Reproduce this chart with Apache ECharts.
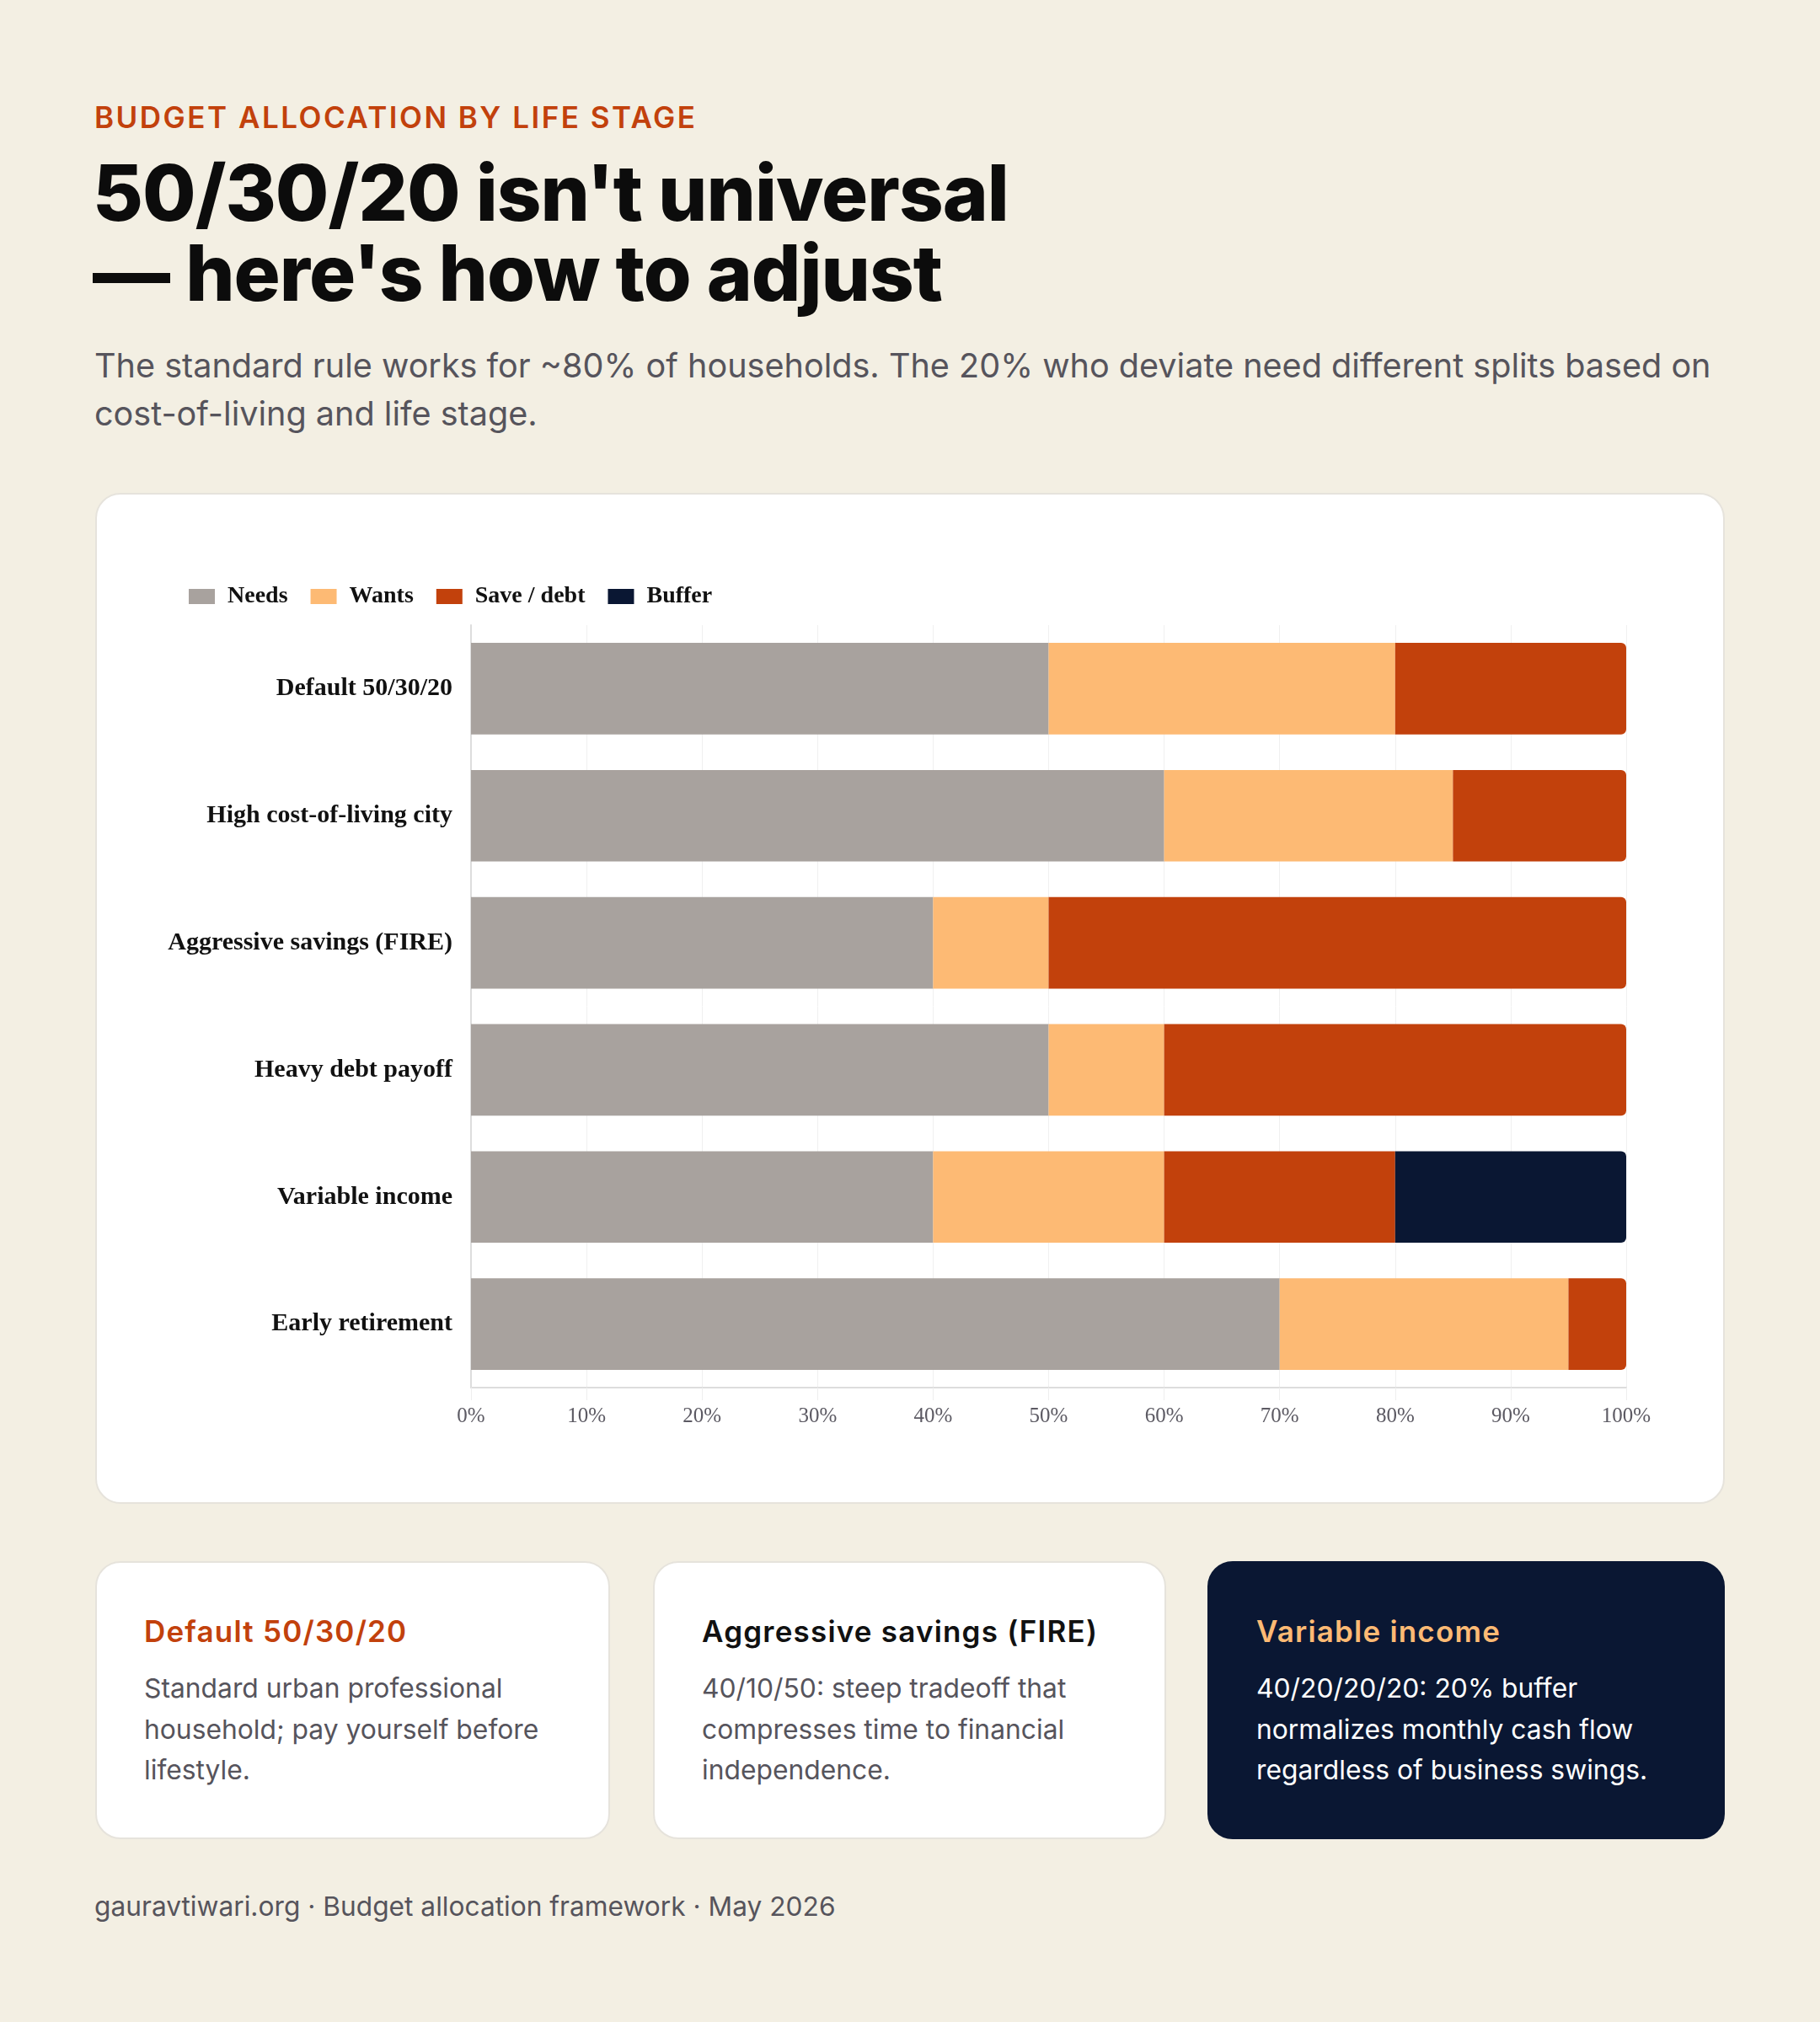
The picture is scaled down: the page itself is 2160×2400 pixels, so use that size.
<!DOCTYPE html>
<html>
<head>
<meta charset="utf-8">
<script src="https://cdn.jsdelivr.net/npm/echarts@6/dist/echarts.min.js"></script>
<style>
  html, body { margin:0; padding:0; }
  body { width:2160px; height:2400px; background:#f3efe3; position:relative; font-family:Inter, "Noto Sans", sans-serif; overflow:hidden; }
  .eyebrow { position:absolute; left:112px; top:118px; font-size:35px; font-weight:600; letter-spacing:2.5px; color:#c2410c; }
  .title { position:absolute; left:110px; top:181px; font-size:92px; font-weight:800; line-height:95px; letter-spacing:-1px; color:#0c0c0c; }
  .sub { position:absolute; left:112px; top:406px; width:1990px; font-size:39.6px; line-height:57px; color:#56545c; }
  .card { position:absolute; background:#fff; border:2px solid #e6e3dc; border-radius:30px; box-sizing:border-box; }
  #chart { position:absolute; left:113px; top:585px; width:1934px; height:1200px; }
  .small { top:1853px; height:330px; padding:56px 56px; }
  .small h3 { margin:0; font-size:35px; font-weight:600; line-height:44px; margin-top:3px; letter-spacing:1.2px; }
  .small p { margin:22px 0 0 0; font-size:31.8px; line-height:48.5px; color:#56545c; }
  .dark { background:#0a1733; border-color:#0a1733; }
  .dark h3 { color:#fdba74; }
  .dark p { color:#ffffff; }
  .footer { position:absolute; left:112px; top:2243px; font-size:31.7px; color:#56545c; }
</style>
</head>
<body>
<div class="eyebrow">BUDGET ALLOCATION BY LIFE STAGE</div>
<div class="title">50/30/20 isn't universal<br>— here's how to adjust</div>
<div class="sub">The standard rule works for ~80% of households. The 20% who deviate need different splits based on cost-of-living and life stage.</div>

<div class="card" style="left:113px; top:585px; width:1934px; height:1200px;"></div>
<div id="chart"></div>

<div class="card small" style="left:113px; width:611px;">
  <h3 style="color:#c2410c;">Default 50/30/20</h3>
  <p>Standard urban professional household; pay yourself before lifestyle.</p>
</div>
<div class="card small" style="left:775px; width:609px;">
  <h3 style="color:#111;">Aggressive savings (FIRE)</h3>
  <p>40/10/50: steep tradeoff that compresses time to financial independence.</p>
</div>
<div class="card small dark" style="left:1433px; width:614px;">
  <h3>Variable income</h3>
  <p>40/20/20/20: 20% buffer normalizes monthly cash flow regardless of business swings.</p>
</div>

<div class="footer">gauravtiwari.org · Budget allocation framework · May 2026</div>

<script>
const categories = ["Default 50/30/20", "High cost-of-living city", "Aggressive savings (FIRE)", "Heavy debt payoff", "Variable income", "Early retirement"];
const seriesNames = ["Needs", "Wants", "Save / debt", "Buffer"];
const needs = [50, 60, 40, 50, 40, 70];
const wants = [30, 25, 10, 10, 20, 25];
const saveDebt = [20, 15, 50, 40, 20, 5];
const buffer = [0, 0, 0, 0, 20, 0];
const colors = ["#a8a29e", "#fdba74", "#c2410c", "#0a1733"];
const xTicks = [0, 10, 20, 30, 40, 50, 60, 70, 80, 90, 100];

const allValues = [needs, wants, saveDebt, buffer];
const lastIdx = categories.map((c, i) => {
  let last = 0;
  allValues.forEach((arr, s) => { if (arr[i] > 0) last = s; });
  return last;
});

const serif = "'Liberation Serif', 'Times New Roman', serif";
const chart = echarts.init(document.getElementById('chart'), null, { renderer: 'canvas' });
chart.setOption({
  animation: false,
  backgroundColor: 'transparent',
  textStyle: { fontFamily: serif },
  legend: {
    left: 106, top: 104,
    itemWidth: 31, itemHeight: 18, itemGap: 27,
    icon: 'rect',
    textStyle: { fontFamily: serif, fontSize: 28, fontWeight: 'bold', color: '#111', padding: [0, 0, 0, 10] },
    data: seriesNames
  },
  grid: { left: 446, right: 117, top: 157, bottom: 138, containLabel: false },
  xAxis: {
    type: 'value', min: 0, max: 100, interval: 10,
    axisLine: { show: true, lineStyle: { color: '#dddddd', width: 2 } },
    axisTick: { show: true, length: 15, lineStyle: { color: '#eeeeee', width: 1 } },
    splitLine: { show: true, lineStyle: { color: '#f0f0f0', width: 1 } },
    axisLabel: { fontFamily: serif, fontSize: 25, color: '#5c5a63', margin: 22, formatter: v => v + '%' }
  },
  yAxis: {
    type: 'category', inverse: true, data: categories,
    axisLine: { show: true, lineStyle: { color: '#dddddd', width: 2 } },
    axisTick: { show: false },
    axisLabel: { fontFamily: serif, fontSize: 30, fontWeight: 'bold', color: '#111', margin: 22 }
  },
  series: allValues.map((arr, s) => ({
    name: seriesNames[s],
    type: 'bar',
    stack: 'total',
    barCategoryGap: '28%',
    itemStyle: { color: colors[s] },
    data: arr.map((v, i) => ({
      value: v,
      itemStyle: lastIdx[i] === s ? { borderRadius: [0, 6, 6, 0] } : {}
    }))
  }))
});
</script>
</body>
</html>
